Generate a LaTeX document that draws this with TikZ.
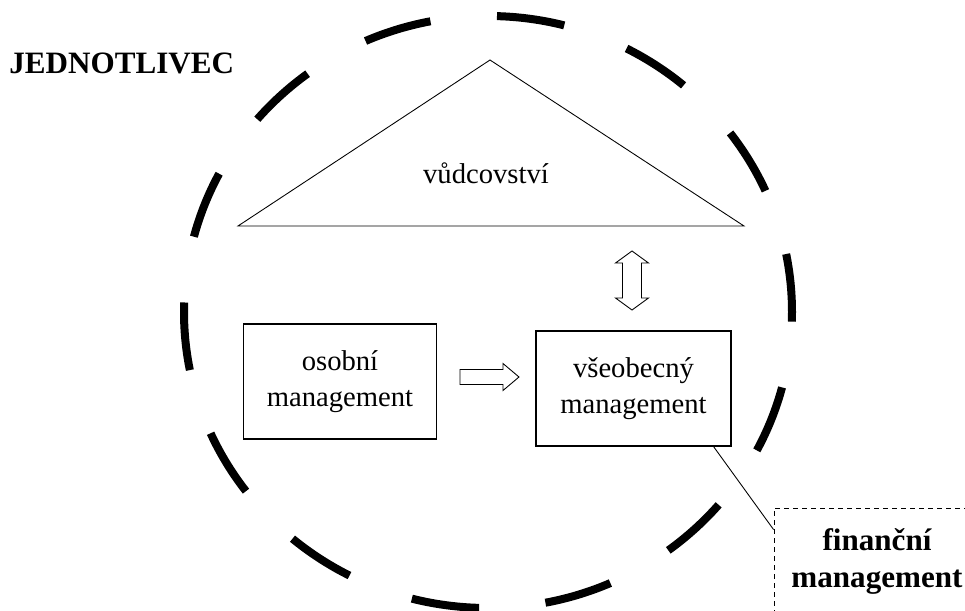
\documentclass[tikz,border=0pt]{standalone}
\usepackage{fontspec}
\setmainfont{Liberation Serif}
\usepackage{tikz}
\usetikzlibrary{arrows.meta,positioning}

\begin{document}
\begin{tikzpicture}[
    box/.style={rectangle, draw, line width=0.6pt, minimum width=3.86cm, minimum height=2.3cm, align=center, font=\fontsize{16.3}{20.5}\selectfont},
    finbox/.style={rectangle, draw, line width=0.5pt, dash pattern=on 0.1cm off 0.08cm, minimum width=4.12cm, minimum height=2.14cm, align=center, font=\bfseries\fontsize{17.7}{21}\selectfont},
    ring/.style={line width=0.16cm, dash pattern=on 1.36cm off 1.333cm, dash phase=2.513cm},
    hollow/.style={draw, line width=0.5pt, fill=white},
    link/.style={line width=0.5pt}
]
\useasboundingbox (0,0) rectangle (19.3,12.2);

% Ring
\draw[ring] (9.76,11.88) arc[start angle=90, end angle=-270, x radius=6.08cm, y radius=5.92cm];

% Title
\node[anchor=base west, inner sep=0, font=\bfseries\fontsize{17.7}{21}\selectfont] (jednotlivec) at (0.18,10.72) {JEDNOTLIVEC};

% Leadership triangle
\draw[link] (4.76,7.68) -- (9.8,11.0) -- (14.88,7.68) -- cycle;
\node[font=\fontsize{16.3}{20.5}\selectfont] (vudcovstvi) at (9.72,8.74) {vůdcovství};

% Boxes
\node[box] (osobni) at (6.8,4.57) {osobní\\management};
\node[box, minimum width=3.9cm] (vseobecny) at (12.67,4.43) {všeobecný\\management};
\node[finbox] (financni) at (17.54,0.97) {finanční\\management};

% Arrows
\draw[hollow] (9.2,4.51) -- (10.06,4.51) -- (10.06,4.39) -- (10.38,4.66) -- (10.06,4.93) -- (10.06,4.81) -- (9.2,4.81) -- cycle;
\draw[hollow] (12.64,7.18) -- (12.97,6.94) -- (12.83,6.94) -- (12.83,6.24) -- (12.97,6.24) -- (12.64,6.0) -- (12.31,6.24) -- (12.45,6.24) -- (12.45,6.94) -- (12.31,6.94) -- cycle;
\draw[link] ([xshift=-0.36cm]vseobecny.south east) -- ([yshift=-0.44cm]financni.north west);

\end{tikzpicture}
\end{document}
